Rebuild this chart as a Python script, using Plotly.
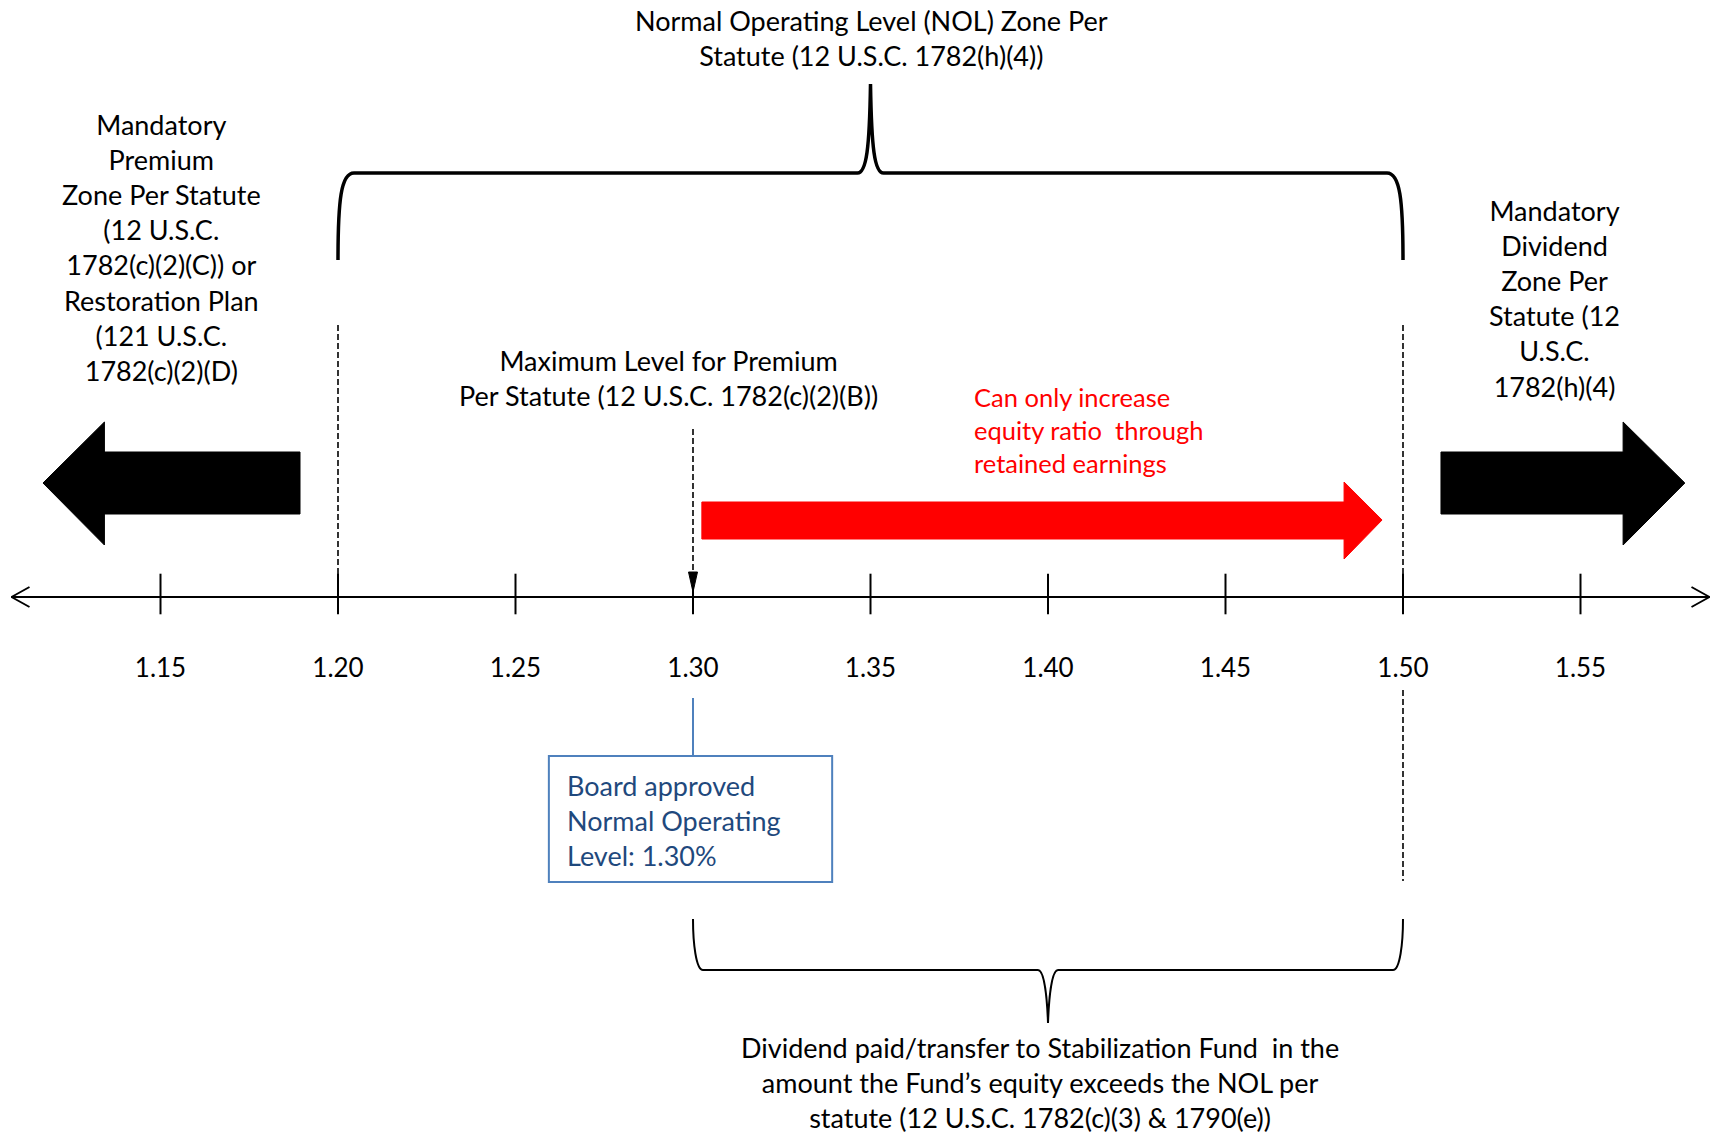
import plotly.graph_objects as go

# Equity ratio scale (%) shown along the number line
TICK_VALUES = [1.15, 1.20, 1.25, 1.30, 1.35, 1.40, 1.45, 1.50, 1.55]
TICK_LABELS = ["1.15", "1.20", "1.25", "1.30", "1.35", "1.40", "1.45", "1.50", "1.55"]

# Statutory / board thresholds on the same scale
PREMIUM_FLOOR = 1.20        # below this: mandatory premium / restoration plan
MAX_PREMIUM_LEVEL = 1.30    # maximum level for premium per statute
BOARD_NOL = 1.30            # board approved normal operating level
NOL_CAP = 1.50              # above this: mandatory dividend

TOP_TITLE = "Normal Operating Level (NOL) Zone Per<br>Statute (12 U.S.C. 1782(h)(4))"
LEFT_ZONE = ("Mandatory<br>Premium<br>Zone Per Statute<br>(12 U.S.C.<br>1782(c)(2)(C)) or"
             "<br>Restoration Plan<br>(121 U.S.C.<br>1782(c)(2)(D)")
RIGHT_ZONE = "Mandatory<br>Dividend<br>Zone Per<br>Statute (12<br>U.S.C.<br>1782(h)(4)"
MAX_PREMIUM_TEXT = "Maximum Level for Premium<br>Per Statute (12 U.S.C. 1782(c)(2)(B))"
RETAINED_TEXT = "Can only increase<br>equity ratio  through<br>retained earnings"
BOARD_TEXT = "Board approved<br>Normal Operating<br>Level: 1.30%"
DIVIDEND_TEXT = ("Dividend paid/transfer to Stabilization Fund  in the<br>amount the Fund\u2019s "
                 "equity exceeds the NOL per<br>statute (12 U.S.C. 1782(c)(3) & 1790(e))")

W, H = 1716, 1135
X_RANGE = [1.104789, 1.588169]
PX = W / (X_RANGE[1] - X_RANGE[0])   # screen pixels per ratio unit


def dx(px):
    """Horizontal offset of `px` screen pixels, in ratio units."""
    return px / PX


FONT = "Lato"
AXIS_Y = 597
BLACK = "#000000"
RED = "#ff0000"
BOX_LINE = "#4f81bd"
BOX_TEXT = "#1f497d"

fig = go.Figure()

# ---- number line with open arrowheads at both ends ----
x_left = X_RANGE[0] + dx(11.5)
x_right = X_RANGE[1] - dx(6.5)
fig.add_trace(go.Scatter(
    x=[x_left, x_right], y=[AXIS_Y, AXIS_Y], mode="lines",
    line=dict(color=BLACK, width=2), hoverinfo="skip"))
fig.add_trace(go.Scatter(
    x=[x_left + dx(18), x_left, x_left + dx(18), None,
       x_right - dx(18), x_right, x_right - dx(18)],
    y=[AXIS_Y - 10, AXIS_Y, AXIS_Y + 10, None, AXIS_Y - 10, AXIS_Y, AXIS_Y + 10],
    mode="lines", line=dict(color=BLACK, width=2), hoverinfo="skip"))

# tick marks crossing the line
fig.add_trace(go.Scatter(
    x=TICK_VALUES, y=[AXIS_Y - 3] * len(TICK_VALUES), mode="markers",
    marker=dict(symbol="line-ns", size=29, line=dict(color=BLACK, width=2)),
    hoverinfo="skip"))

# tick labels
fig.add_trace(go.Scatter(
    x=TICK_VALUES, y=[670] * len(TICK_VALUES), mode="text", text=TICK_LABELS,
    textposition="middle center", textfont=dict(family=FONT, size=26, color=BLACK),
    hoverinfo="skip"))

# ---- block arrows ----
# mandatory premium zone (points left)
la_tip, la_head, la_end = 1.1169, 1.1342, 1.1893
fig.add_trace(go.Scatter(
    x=[la_tip, la_head, la_head, la_end, la_end, la_head, la_head, la_tip],
    y=[483, 422, 452, 452, 514, 514, 545, 483],
    mode="lines", fill="toself", fillcolor=BLACK, line=dict(color=BLACK, width=1),
    hoverinfo="skip"))

# mandatory dividend zone (points right)
ra_start, ra_head, ra_tip = 1.5107, 1.5620, 1.5794
fig.add_trace(go.Scatter(
    x=[ra_start, ra_head, ra_head, ra_tip, ra_head, ra_head, ra_start, ra_start],
    y=[452, 452, 422, 483, 545, 514, 514, 452],
    mode="lines", fill="toself", fillcolor=BLACK, line=dict(color=BLACK, width=1),
    hoverinfo="skip"))

# retained earnings growth (red, points right)
rd_start, rd_head, rd_tip = 1.3025, 1.4834, 1.4941
fig.add_trace(go.Scatter(
    x=[rd_start, rd_head, rd_head, rd_tip, rd_head, rd_head, rd_start, rd_start],
    y=[502, 502, 482, 520, 559, 539, 539, 502],
    mode="lines", fill="toself", fillcolor=RED, line=dict(color=RED, width=1),
    hoverinfo="skip"))

# arrowhead of the dashed pointer to the max premium level
fig.add_trace(go.Scatter(
    x=[MAX_PREMIUM_LEVEL - dx(4.5), MAX_PREMIUM_LEVEL + dx(4.5), MAX_PREMIUM_LEVEL,
       MAX_PREMIUM_LEVEL - dx(4.5)],
    y=[572, 572, 592, 572], mode="lines", fill="toself", fillcolor=BLACK,
    line=dict(color=BLACK, width=1), hoverinfo="skip"))

shapes = []
dash = dict(color=BLACK, width=1.6, dash="6px,3px")

# zone boundaries
shapes.append(dict(type="line", x0=PREMIUM_FLOOR, x1=PREMIUM_FLOOR, y0=325, y1=580,
                   xref="x", yref="y", line=dash))
shapes.append(dict(type="line", x0=NOL_CAP, x1=NOL_CAP, y0=325, y1=580,
                   xref="x", yref="y", line=dash))
shapes.append(dict(type="line", x0=NOL_CAP, x1=NOL_CAP, y0=690, y1=881,
                   xref="x", yref="y", line=dash))
# dashed pointer to the max premium level
shapes.append(dict(type="line", x0=MAX_PREMIUM_LEVEL, x1=MAX_PREMIUM_LEVEL, y0=429, y1=575,
                   xref="x", yref="y", line=dash))


def brace(xa, xb, y_end, y_bar, y_tip, arm=16, cusp=13):
    """Curly brace from xa to xb; arms end at y_end, bar at y_bar, point at y_tip."""
    s = 1 if y_end > y_bar else -1
    xm = (xa + xb) / 2
    p = [
        f"M {xa},{y_end}",
        f"C {xa},{y_bar + s * 27} {xa + dx(3)},{y_bar} {xa + dx(arm)},{y_bar}",
        f"L {xm - dx(cusp)},{y_bar}",
        f"C {xm - dx(4)},{y_bar} {xm - dx(1)},{y_bar - s * 25} {xm},{y_tip}",
        f"C {xm + dx(1)},{y_bar - s * 25} {xm + dx(4)},{y_bar} {xm + dx(cusp)},{y_bar}",
        f"L {xb - dx(arm)},{y_bar}",
        f"C {xb - dx(3)},{y_bar} {xb},{y_bar + s * 27} {xb},{y_end}",
    ]
    return " ".join(p)


shapes.append(dict(type="path", xref="x", yref="y",
                   path=brace(PREMIUM_FLOOR, NOL_CAP, 260, 173, 84),
                   line=dict(color=BLACK, width=3.5)))
shapes.append(dict(type="path", xref="x", yref="y",
                   path=brace(BOARD_NOL, NOL_CAP, 919, 970, 1023, arm=10, cusp=10),
                   line=dict(color=BLACK, width=2)))

# board approved NOL call-out box
shapes.append(dict(type="line", x0=BOARD_NOL, x1=BOARD_NOL, y0=698, y1=756,
                   xref="x", yref="y", line=dict(color=BOX_LINE, width=2)))
shapes.append(dict(type="rect", x0=1.2594, x1=1.3392, y0=756, y1=882,
                   xref="x", yref="y", line=dict(color=BOX_LINE, width=2),
                   fillcolor="rgba(0,0,0,0)"))

annotations = []


def note(text, x, y, size=27, color=BLACK, xanchor="center", align="center"):
    annotations.append(dict(
        text=text, x=x, y=y, xref="x", yref="y", showarrow=False,
        xanchor=xanchor, yanchor="middle", align=align, borderpad=0,
        font=dict(family=FONT, size=size, color=color)))


note(TOP_TITLE, 1.3504, 38)
note(LEFT_ZONE, 1.1504, 247)
note(RIGHT_ZONE, 1.5428, 298)
note(MAX_PREMIUM_TEXT, 1.2932, 378)
note(RETAINED_TEXT, 1.3788, 430, size=25.5, color=RED, xanchor="left", align="left")
note(BOARD_TEXT, 1.2643, 820, color=BOX_TEXT, xanchor="left", align="left")
note(DIVIDEND_TEXT, 1.3977, 1082)

fig.update_layout(
    width=W, height=H,
    margin=dict(l=0, r=0, t=0, b=0),
    paper_bgcolor="white", plot_bgcolor="white",
    showlegend=False,
    shapes=shapes, annotations=annotations,
    xaxis=dict(range=X_RANGE, visible=False, fixedrange=True),
    yaxis=dict(range=[H, 0], visible=False, fixedrange=True),
)

fig.write_html("out.html", config={"displayModeBar": False})
